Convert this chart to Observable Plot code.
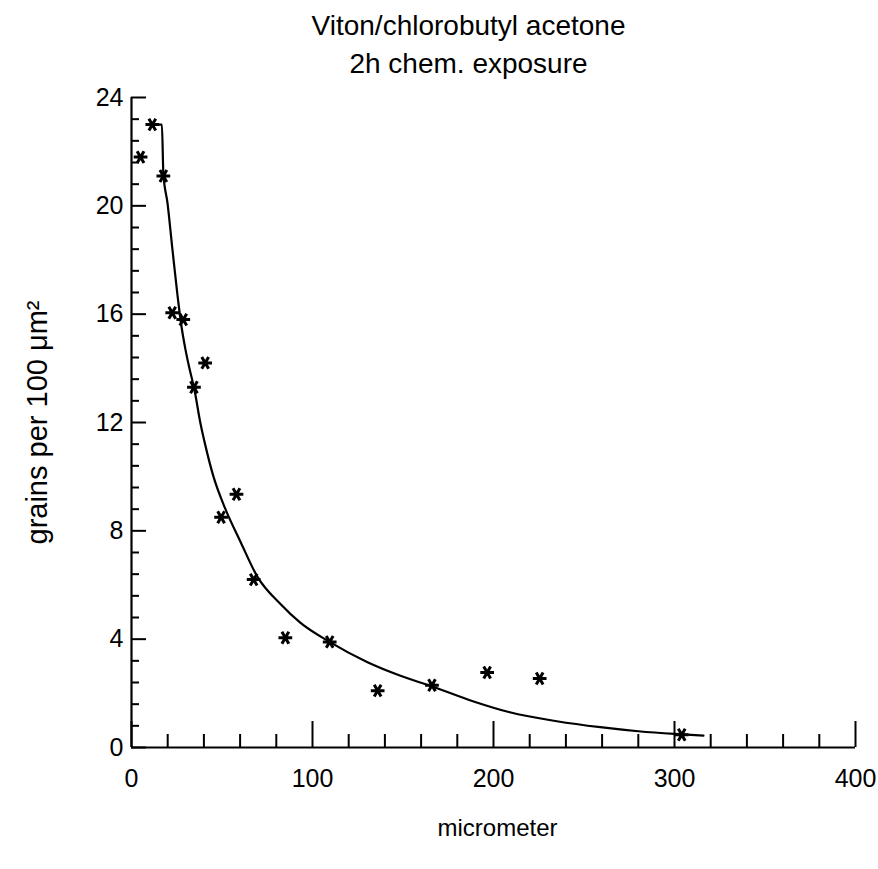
<!DOCTYPE html>
<html><head><meta charset="utf-8">
<script src="https://cdn.jsdelivr.net/npm/d3@7"></script>
<script src="https://cdn.jsdelivr.net/npm/@observablehq/plot@0.6"></script>
<style>body{margin:0;background:#fff}#chart{width:878px;height:869px}</style>
</head><body><div id="chart"></div>
<script>
// measured data points (micrometer, grains per 100 µm²)
const pointX = [5, 11.5, 17.6, 22.5, 28.6, 34.5, 40.7, 49.5, 58, 67.5, 85, 109.5, 136, 166, 196.5, 225.5, 304];
const pointY = [21.8, 23.0, 21.1, 16.05, 15.8, 13.3, 14.2, 8.5, 9.35, 6.2, 4.05, 3.9, 2.1, 2.3, 2.77, 2.55, 0.47];
// fitted curve
const curveX = [13, 16.8, 17.6, 19.9, 22.6, 25.4, 27.5, 29.8, 32, 34.8, 38, 41, 45.3, 51.9, 60.2, 69.6, 82.3, 93.4, 109.4, 130.4, 148.6, 166.3, 189, 209, 235, 259, 280, 300, 316];
const curveY = [23.0, 23.0, 21.2, 20.1, 18.4, 16.7, 15.6, 14.7, 14.0, 13.2, 12.0, 11.1, 10.0, 8.8, 7.6, 6.3, 5.3, 4.6, 3.9, 3.15, 2.65, 2.25, 1.7, 1.3, 0.97, 0.75, 0.6, 0.5, 0.44];
// ticks
const xTickLabels = [0, 100, 200, 300, 400];
const yTickLabels = [0, 4, 8, 12, 16, 20, 24];
const xMinorTicks = [20, 40, 60, 80, 120, 140, 160, 180, 220, 240, 260, 280, 320, 340, 360, 380];
const yMinorTicks = [0.8, 1.6, 2.4, 3.2, 4.8, 5.6, 6.4, 7.2, 8.8, 9.6, 10.4, 11.2, 12.8, 13.6, 14.4, 15.2, 16.8, 17.6, 18.4, 19.2, 20.8, 21.6, 22.4, 23.2];
// texts
const titleLines = ["Viton/chlorobutyl acetone", "2h chem. exposure"];
const xLabel = "micrometer";
const yLabel = "grains per 100 \u03BCm\u00B2";

const points = pointX.map((x, i) => ({x, y: pointY[i]}));
const curve = curveX.map((x, i) => ({x, y: curveY[i]}));

const font = "'Liberation Sans', Arial, Helvetica, sans-serif";
const chart = Plot.plot({
  width: 878, height: 869,
  marginLeft: 131, marginRight: 23, marginTop: 97, marginBottom: 122,
  style: {fontFamily: font, background: "#fff", color: "#000", overflow: "visible"},
  x: {domain: [0, 400]},
  y: {domain: [0, 24]},
  marks: [
    Plot.ruleX([0], {strokeWidth: 2.2}),
    Plot.ruleY([0], {strokeWidth: 2.2}),
    Plot.axisX(xTickLabels, {tickSize: 0, tickPadding: 22, fontSize: 25, label: null, tickFormat: d => String(d)}),
    Plot.axisX(xTickLabels, {tickSize: -26, text: null, strokeWidth: 2, label: null}),
    Plot.axisX(xMinorTicks, {tickSize: -13, text: null, strokeWidth: 2, label: null}),
    Plot.axisY(yTickLabels, {tickSize: 0, tickPadding: 8, fontSize: 25, label: null, tickFormat: d => String(d)}),
    Plot.axisY(yTickLabels, {tickSize: -15, text: null, strokeWidth: 2, label: null}),
    Plot.axisY(yMinorTicks, {tickSize: -8, text: null, strokeWidth: 2, label: null}),
    Plot.line(curve, {x: "x", y: "y", curve: "monotone-x", stroke: "#000", strokeWidth: 2.2}),
    Plot.dot(points, {x: "x", y: "y", symbol: "asterisk", rotate: 90, r: 6.5, stroke: "#000", strokeWidth: 3}),
    Plot.text([titleLines.join("\n")], {frameAnchor: "top", textAnchor: "middle", lineAnchor: "top", dy: -89, dx: -25, fontSize: 28, lineHeight: 1.35, fill: "#000"}),
    Plot.text([xLabel], {frameAnchor: "bottom", textAnchor: "middle", dy: 88, dx: 4, fontSize: 24, fill: "#000"}),
    Plot.text([yLabel], {frameAnchor: "left", textAnchor: "middle", rotate: -90, dx: -94, fontSize: 29, fill: "#000"})
  ]
});
document.getElementById("chart").appendChild(chart);
</script>
</body></html>
